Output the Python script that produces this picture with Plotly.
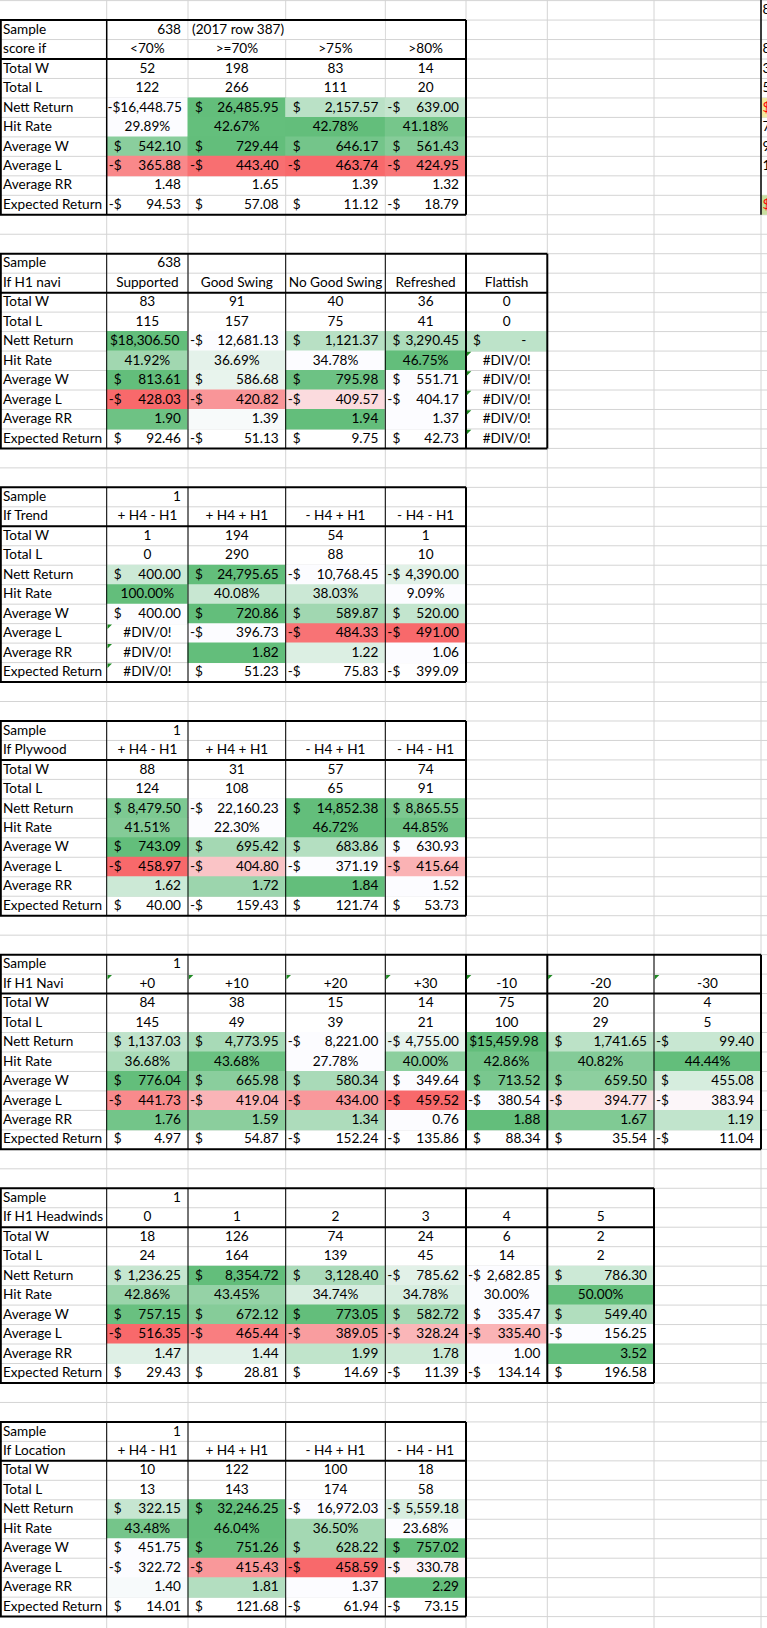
import plotly.graph_objects as go

row_names = ["Sample", None, "Total W", "Total L", "Nett Return", "Hit Rate",
             "Average W", "Average L", "Average RR", "Expected Return"]

# 1) score
score_heads = ["<70%", ">=70%", ">75%", ">80%"]
score_w = [52, 198, 83, 14]
score_l = [122, 266, 111, 20]
score_nett = [-16448.75, 26485.95, 2157.57, -639.00]
score_hit = [29.89, 42.67, 42.78, 41.18]
score_avg_w = [542.10, 729.44, 646.17, 561.43]
score_avg_l = [-365.88, -443.40, -463.74, -424.95]
score_rr = [1.48, 1.65, 1.39, 1.32]
score_exp = [-94.53, 57.08, 11.12, -18.79]

# 2) H1 navi
navi_heads = ["Supported", "Good Swing", "No Good Swing", "Refreshed", "Flattish"]
navi_w = [83, 91, 40, 36, 0]
navi_l = [115, 157, 75, 41, 0]
navi_nett = [18306.50, -12681.13, 1121.37, 3290.45, 0]
navi_hit = [41.92, 36.69, 34.78, 46.75, None]
navi_avg_w = [813.61, 586.68, 795.98, 551.71, None]
navi_avg_l = [-428.03, -420.82, -409.57, -404.17, None]
navi_rr = [1.90, 1.39, 1.94, 1.37, None]
navi_exp = [92.46, -51.13, 9.75, 42.73, None]

hh_heads = ["+ H4 - H1", "+ H4 + H1", "- H4 + H1", "- H4 - H1"]

# 3) trend
trend_w = [1, 194, 54, 1]
trend_l = [0, 290, 88, 10]
trend_nett = [400.00, 24795.65, -10768.45, -4390.00]
trend_hit = [100.00, 40.08, 38.03, 9.09]
trend_avg_w = [400.00, 720.86, 589.87, 520.00]
trend_avg_l = [None, -396.73, -484.33, -491.00]
trend_rr = [None, 1.82, 1.22, 1.06]
trend_exp = [None, 51.23, -75.83, -399.09]

# 4) plywood
ply_w = [88, 31, 57, 74]
ply_l = [124, 108, 65, 91]
ply_nett = [8479.50, -22160.23, 14852.38, 8865.55]
ply_hit = [41.51, 22.30, 46.72, 44.85]
ply_avg_w = [743.09, 695.42, 683.86, 630.93]
ply_avg_l = [-458.97, -404.80, -371.19, -415.64]
ply_rr = [1.62, 1.72, 1.84, 1.52]
ply_exp = [40.00, -159.43, 121.74, 53.73]

# 5) H1 Navi offsets
off_heads = ["+0", "+10", "+20", "+30", "-10", "-20", "-30"]
off_w = [84, 38, 15, 14, 75, 20, 4]
off_l = [145, 49, 39, 21, 100, 29, 5]
off_nett = [1137.03, 4773.95, -8221.00, -4755.00, 15459.98, 1741.65, -99.40]
off_hit = [36.68, 43.68, 27.78, 40.00, 42.86, 40.82, 44.44]
off_avg_w = [776.04, 665.98, 580.34, 349.64, 713.52, 659.50, 455.08]
off_avg_l = [-441.73, -419.04, -434.00, -459.52, -380.54, -394.77, -383.94]
off_rr = [1.76, 1.59, 1.34, 0.76, 1.88, 1.67, 1.19]
off_exp = [4.97, 54.87, -152.24, -135.86, 88.34, 35.54, -11.04]

# 6) headwinds
hw_heads = ["0", "1", "2", "3", "4", "5"]
hw_w = [18, 126, 74, 24, 6, 2]
hw_l = [24, 164, 139, 45, 14, 2]
hw_nett = [1236.25, 8354.72, 3128.40, -785.62, -2682.85, 786.30]
hw_hit = [42.86, 43.45, 34.74, 34.78, 30.00, 50.00]
hw_avg_w = [757.15, 672.12, 773.05, 582.72, 335.47, 549.40]
hw_avg_l = [-516.35, -465.44, -389.05, -328.24, -335.40, -156.25]
hw_rr = [1.47, 1.44, 1.99, 1.78, 1.00, 3.52]
hw_exp = [29.43, 28.81, 14.69, -11.39, -134.14, 196.58]

# 7) location
loc_w = [10, 122, 100, 18]
loc_l = [13, 143, 174, 58]
loc_nett = [322.15, 32246.25, -16972.03, -5559.18]
loc_hit = [43.48, 46.04, 36.50, 23.68]
loc_avg_w = [451.75, 751.26, 628.22, 757.02]
loc_avg_l = [-322.72, -415.43, -458.59, -330.78]
loc_rr = [1.40, 1.81, 1.37, 2.29]
loc_exp = [14.01, 121.68, -61.94, -73.15]

# clipped column at the right edge
edge_text = ["8", "", "8", "3", "5", "$", "7", "9", "1", "", "$"]

tables = [
    dict(start=1, title="score if", sample="638", note="(2017 row 387)", heads=score_heads,
         w=score_w, l=score_l, nett=score_nett, hit=score_hit, avg_w=score_avg_w,
         avg_l=score_avg_l, rr=score_rr, exp=score_exp),
    dict(start=13, title="If H1 navi", sample="638", heads=navi_heads,
         w=navi_w, l=navi_l, nett=navi_nett, hit=navi_hit, avg_w=navi_avg_w,
         avg_l=navi_avg_l, rr=navi_rr, exp=navi_exp),
    dict(start=25, title="If Trend", sample="1", heads=hh_heads,
         w=trend_w, l=trend_l, nett=trend_nett, hit=trend_hit, avg_w=trend_avg_w,
         avg_l=trend_avg_l, rr=trend_rr, exp=trend_exp),
    dict(start=37, title="If Plywood", sample="1", heads=hh_heads,
         w=ply_w, l=ply_l, nett=ply_nett, hit=ply_hit, avg_w=ply_avg_w,
         avg_l=ply_avg_l, rr=ply_rr, exp=ply_exp),
    dict(start=49, title="If H1 Navi", sample="1", heads=off_heads,
         w=off_w, l=off_l, nett=off_nett, hit=off_hit, avg_w=off_avg_w,
         avg_l=off_avg_l, rr=off_rr, exp=off_exp),
    dict(start=61, title="If H1 Headwinds", sample="1", heads=hw_heads,
         w=hw_w, l=hw_l, nett=hw_nett, hit=hw_hit, avg_w=hw_avg_w,
         avg_l=hw_avg_l, rr=hw_rr, exp=hw_exp),
    dict(start=73, title="If Location", sample="1", heads=hh_heads,
         w=loc_w, l=loc_l, nett=loc_nett, hit=loc_hit, avg_w=loc_avg_w,
         avg_l=loc_avg_l, rr=loc_rr, exp=loc_exp),
]

# look of each table (borders / colour-scale rules)
table_style = [
    dict(inner=False, thick=[], rr_scale=False, zero_anchor=True, text_heads=False),
    dict(inner=True, thick=[5], rr_scale=True, zero_anchor=False, text_heads=False),
    dict(inner=True, thick=[], rr_scale=True, zero_anchor=False, text_heads=False),
    dict(inner=True, thick=[], rr_scale=True, zero_anchor=False, text_heads=False),
    dict(inner=True, thick=[5, 6], rr_scale=True, zero_anchor=False, text_heads=True),
    dict(inner=True, thick=[5, 6], rr_scale=True, zero_anchor=False, text_heads=False),
    dict(inner=True, thick=[], rr_scale=True, zero_anchor=False, text_heads=False),
]

# ---- sheet geometry (screen px) ----
W, H = 767, 1628
COL_EDGES = [0, 106.7, 188, 285.7, 385.3, 466, 547.3, 654, 761, 767]
ROW_TOP0 = 0.6
ROW_H = 19.47
N_ROWS = 84
FONT = dict(family="Lato, Calibri, sans-serif", size=13.6, color="black")
GRID = "#D4D4D4"
WHITE = (252, 252, 255)
GREEN = (99, 190, 123)
RED = (248, 105, 107)


def ytop(k):
    return ROW_TOP0 + k * ROW_H


def ymid(k):
    return ytop(k) + ROW_H / 2 + 0.5


def mix(c, t):
    r = [round(WHITE[i] + t * (c[i] - WHITE[i])) for i in range(3)]
    return f"rgb({r[0]},{r[1]},{r[2]})"


shapes = []
texts = {"L": ([], [], []), "R": ([], [], []), "C": ([], [], [])}


def put(kind, x, y, s):
    texts[kind][0].append(x)
    texts[kind][1].append(y)
    texts[kind][2].append(s)


def hline(x0, x1, y, width=1, color="black"):
    shapes.append(dict(type="line", x0=x0, x1=x1, y0=y, y1=y, layer="below",
                       line=dict(color=color, width=width)))


def vline(x, y0, y1, width=1, color="black"):
    shapes.append(dict(type="line", x0=x, x1=x, y0=y0, y1=y1, layer="below",
                       line=dict(color=color, width=width)))


def fill(x0, x1, y0, y1, color):
    shapes.append(dict(type="rect", x0=x0, x1=x1, y0=y0, y1=y1, layer="below",
                       fillcolor=color, line=dict(width=0)))


def triangle(x, y):
    shapes.append(dict(type="path", layer="below",
                       path=f"M {x},{y} L {x + 4.5},{y} L {x},{y + 4.5} Z",
                       fillcolor="#1F8B24", line=dict(width=0)))


# excel gridlines
for k in range(N_ROWS + 1):
    hline(0, W, ytop(k), 1, GRID)
for x in COL_EDGES[1:-1]:
    vline(x, 0, H, 1, GRID)


def shades(vals, color, zero_anchor=False):
    nums = [v for v in vals if v is not None]
    lo, hi = min(nums), max(nums)
    if zero_anchor:
        lo, hi = (0, hi) if color is GREEN else (lo, 0)
    out = []
    for v in vals:
        if v is None:
            out.append(None)
        elif color is GREEN:
            out.append(mix(GREEN, (v - lo) / (hi - lo)))
        else:
            out.append(mix(RED, (hi - v) / (hi - lo)))
    return out


def money(j, k, v):
    xl, xr = COL_EDGES[j + 1], COL_EDGES[j + 2]
    y = ymid(k)
    if v is None:
        put("C", (xl + xr) / 2, y, "#DIV/0!")
        return
    pre = "-$" if v < 0 else "$"
    if v == 0:
        put("R", xl + 15, y, pre)
        put("R", xr - 21, y, "-")
        return
    num = f"{abs(v):,.2f}"
    if abs(v) >= 10000 and xr - xl < 90:
        put("C", (xl + 1.5 + xr - 7) / 2, y, pre + num)
    else:
        put("R", xl + 15, y, pre)
        put("R", xr - 7, y, num)


for t, st in zip(tables, table_style):
    r0 = t["start"]
    n = len(t["heads"])
    right = COL_EDGES[n + 1]
    top, bot = ytop(r0), ytop(r0 + 10)

    # conditional-format fills
    rules = [(4, t["nett"], GREEN, False), (5, t["hit"], GREEN, False),
             (6, t["avg_w"], GREEN, st["zero_anchor"]), (7, t["avg_l"], RED, st["zero_anchor"])]
    if st["rr_scale"]:
        rules.append((8, t["rr"], GREEN, False))
    for i, vals, col, anchor in rules:
        for j, c in enumerate(shades(vals, col, anchor)):
            if c is not None:
                fill(COL_EDGES[j + 1] - 0.5, COL_EDGES[j + 2] + 0.5,
                     ytop(r0 + i) - 0.5, ytop(r0 + i + 1) + 0.5, c)

    if "note" in t:
        fill(COL_EDGES[2] + 0.6, COL_EDGES[4] - 0.6, ytop(r0) + 0.6, ytop(r0 + 1) - 0.6, "white")

    # borders
    inner_w = 1.5 if not st["inner"] else 1
    vline(COL_EDGES[1], top, bot, inner_w)
    if st["inner"]:
        for e in range(2, n + 1):
            vline(COL_EDGES[e], top, bot, 2 if e in st["thick"] else 1)
    hline(0, right, ytop(r0 + 2), 2)
    hline(0, right, top, 2)
    hline(0, right, bot, 2)
    vline(0.8, top, bot, 2)
    vline(right, top, bot, 2)

    # error indicators
    for i, key in [(5, "hit"), (6, "avg_w"), (7, "avg_l"), (8, "rr"), (9, "exp")]:
        for j, v in enumerate(t[key]):
            if v is None:
                triangle(COL_EDGES[j + 1] + 0.8, ytop(r0 + i) + 0.8)
    if st["text_heads"]:
        for j in range(n):
            triangle(COL_EDGES[j + 1] + 0.8, ytop(r0 + 1) + 0.8)

    # text
    for i, name in enumerate(row_names):
        put("L", 3, ymid(r0 + i), name if name else t["title"])
    put("R", COL_EDGES[2] - 7, ymid(r0), t["sample"])
    if "note" in t:
        put("L", COL_EDGES[2] + 4, ymid(r0), t["note"])
    for j in range(n):
        xl, xr = COL_EDGES[j + 1], COL_EDGES[j + 2]
        xc = (xl + xr) / 2
        put("C", xc, ymid(r0 + 1), t["heads"][j])
        put("C", xc, ymid(r0 + 2), str(t["w"][j]))
        put("C", xc, ymid(r0 + 3), str(t["l"][j]))
        money(j, r0 + 4, t["nett"][j])
        h = t["hit"][j]
        put("C", xc, ymid(r0 + 5), "#DIV/0!" if h is None else f"{h:.2f}%")
        money(j, r0 + 6, t["avg_w"][j])
        money(j, r0 + 7, t["avg_l"][j])
        rr = t["rr"][j]
        if rr is None:
            put("C", xc, ymid(r0 + 8), "#DIV/0!")
        else:
            put("R", xr - 7, ymid(r0 + 8), f"{rr:.2f}")
        money(j, r0 + 9, t["exp"][j])

# clipped column I on the right edge
fill(COL_EDGES[8] + 0.5, W, ytop(5), ytop(6), "#F3E9A2")
fill(COL_EDGES[8] + 0.5, W, ytop(10), ytop(11), "#C9DFA0")
vline(COL_EDGES[8], 0, ytop(11), 1.5)
edge_x, edge_y, edge_s, edge_c = [], [], [], []
for k, s in enumerate(edge_text):
    if s:
        edge_x.append(COL_EDGES[8] + 1.5)
        edge_y.append(ymid(k))
        edge_s.append(s)
        edge_c.append("red" if s == "$" else "black")

fig = go.Figure()
for kind, pos in [("L", "middle right"), ("R", "middle left"), ("C", "middle center")]:
    xs, ys, ss = texts[kind]
    fig.add_trace(go.Scatter(x=xs, y=ys, text=ss, mode="text", textposition=pos,
                             textfont=FONT, hoverinfo="skip", cliponaxis=True))
fig.add_trace(go.Scatter(x=edge_x, y=edge_y, text=edge_s, mode="text",
                         textposition="middle right", hoverinfo="skip", cliponaxis=True,
                         textfont=dict(family=FONT["family"], size=FONT["size"], color=edge_c)))

fig.update_layout(
    width=W, height=H,
    margin=dict(l=0, r=0, t=0, b=0),
    paper_bgcolor="white", plot_bgcolor="white",
    showlegend=False, hovermode=False,
    shapes=shapes,
    xaxis=dict(range=[0, W], visible=False, fixedrange=True),
    yaxis=dict(range=[H, 0], visible=False, fixedrange=True),
)

# page margin off so the sheet sits at the window's top-left corner
fig.write_html("out.html", config={"displayModeBar": False},
               post_script="document.body.style.margin='0px';"
                           "document.body.style.overflow='hidden';")
